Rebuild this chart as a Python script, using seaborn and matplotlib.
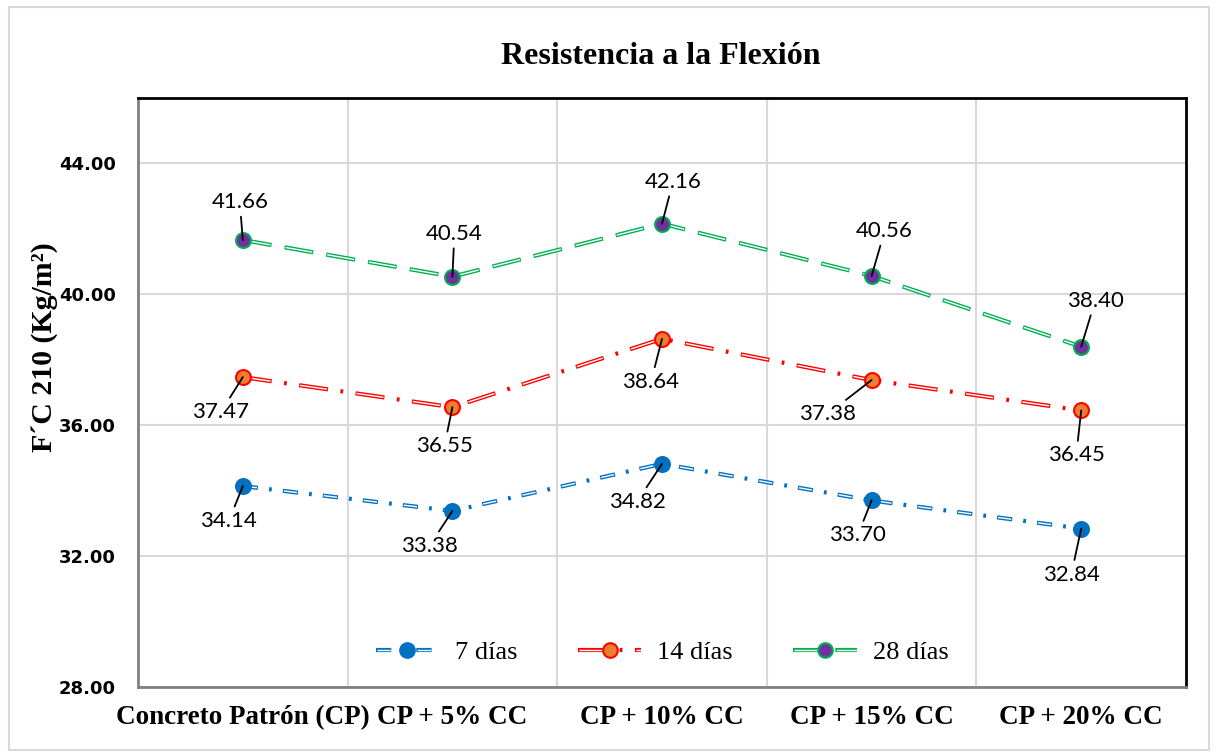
import matplotlib
matplotlib.use("Agg")
import numpy as np
import pandas as pd
import seaborn as sns
import matplotlib.pyplot as plt
from matplotlib.lines import Line2D
from matplotlib.legend_handler import HandlerTuple
from matplotlib.patches import Rectangle

# data
categories = ["Concreto Patrón (CP)", "CP + 5% CC", "CP + 10% CC",
              "CP + 15% CC", "CP + 20% CC"]
dias_7 = [34.14, 33.38, 34.82, 33.70, 32.84]
dias_14 = [37.47, 36.55, 38.64, 37.38, 36.45]
dias_28 = [41.66, 40.54, 42.16, 40.56, 38.40]
series_names = ["7 días", "14 días", "28 días"]
y_ticks = [28, 32, 36, 40, 44]

df = pd.DataFrame({
    "categoria": categories * 3,
    "valor": dias_7 + dias_14 + dias_28,
    "serie": np.repeat(series_names, len(categories)),
})

sns.set_style("white")
plt.rcParams["lines.scale_dashes"] = False
plt.rcParams["text.color"] = "black"
plt.rcParams["xtick.color"] = "black"
plt.rcParams["ytick.color"] = "black"

# styling per series: line colour, marker fill, marker edge, dash pattern
styles = {
    "7 días": dict(line="#0070C0", fill="#0070C0", edge="#0070C0",
                   dash=(11, 8, 2, 8), dlen=11),
    "14 días": dict(line="#FF0000", fill="#ED7D31", edge="#FF0000",
                    dash=(21, 9, 2, 9), dlen=21),
    "28 días": dict(line="#00B050", fill="#7030A0", edge="#00B050",
                    dash=(21, 9.5), dlen=21),
}
# label offsets in pixels (dx, dy) for each point
label_offsets = {
    "7 días": [(-14, -35), (-23, -35), (-25, -38), (-14, -35), (-10, -46)],
    "14 días": [(-22, -35), (-8, -39), (-11, -43), (-44, -34), (-5, -45)],
    "28 días": [(-3, 38), (2, 43), (11, 42), (13, 45), (14, 46)],
}

fig = plt.figure(figsize=(12.17, 7.56), dpi=100)
fig.patches.append(Rectangle((9 / 1217, 6 / 756), 1200 / 1217, 743 / 756,
                             transform=fig.transFigure, fill=False,
                             edgecolor="#D9D9D9", lw=1.5))
ax = fig.add_axes([138 / 1217, 1 - 687 / 756, 1048 / 1217, 589 / 756])

handles = []
for name in series_names:
    st = styles[name]
    sub = df[df["serie"] == name]
    period = sum(st["dash"])
    white_len = st["dlen"] - 1.4
    sns.lineplot(data=sub, x="categoria", y="valor", ax=ax, sort=False,
                 color=st["line"], lw=3.0, linestyle=(0, st["dash"]),
                 legend=False, zorder=3)
    sns.lineplot(data=sub, x="categoria", y="valor", ax=ax, sort=False,
                 color="white", lw=1.0,
                 linestyle=(period - 0.7, (white_len, period - white_len)),
                 legend=False, zorder=3.1)
    sns.scatterplot(data=sub, x="categoria", y="valor", ax=ax, s=115,
                    color=st["fill"], edgecolor=st["edge"], linewidth=1.5,
                    legend=False, zorder=4)
    for i, v in enumerate(sub["valor"]):
        ax.annotate(f"{v:.2f}", xy=(i, v), xytext=label_offsets[name][i],
                    textcoords="offset pixels", ha="center", va="center",
                    fontsize=16, family="Lato", color="black", zorder=6,
                    arrowprops=dict(arrowstyle="-", color="black", lw=1.3,
                                    shrinkA=1, shrinkB=0))
    h_col = Line2D([], [], color=st["line"], lw=3.0,
                   linestyle=(0, st["dash"]))
    h_white = Line2D([], [], color="white", lw=1.0,
                     linestyle=(period - 0.7, (white_len, period - white_len)))
    h_mark = Line2D([], [], ls="none", marker="o", markersize=10.5,
                    markerfacecolor=st["fill"], markeredgecolor=st["edge"],
                    markeredgewidth=1.5)
    handles.append((h_col, h_white, h_mark))

ax.set_xlim(-0.5, len(categories) - 0.5)
ax.set_ylim(28, 46)
ax.set_yticks(y_ticks)
ax.set_yticklabels([f"{t:.2f}" for t in y_ticks])
ax.set_xticks(range(len(categories)))
ax.set_xticklabels(categories)
ax.set_xticks(np.arange(0.5, len(categories) - 0.5, 1), minor=True)
ax.grid(False)
ax.grid(axis="y", which="major", color="#D9D9D9", lw=1.5, zorder=0)
ax.grid(axis="x", which="minor", color="#D9D9D9", lw=1.5, zorder=0)
ax.set_axisbelow(True)
ax.tick_params(axis="both", which="both", length=0)
ax.tick_params(axis="y", pad=16)
ax.tick_params(axis="x", pad=13)
for lab in ax.get_yticklabels():
    lab.set_fontfamily("DejaVu Sans")
    lab.set_fontweight("bold")
    lab.set_fontsize(13)
for lab in ax.get_xticklabels():
    lab.set_fontfamily("Liberation Serif")
    lab.set_fontweight("bold")
    lab.set_fontsize(19.5)
ax.set_xlabel("")
ax.set_ylabel("")

for side in ["left", "bottom"]:
    ax.spines[side].set_color("#808080")
    ax.spines[side].set_linewidth(2)
for side in ["top", "right"]:
    ax.spines[side].set_color("black")
    ax.spines[side].set_linewidth(2)

fig.text(661 / 1217, 1 - 57 / 756, "Resistencia a la Flexión",
         ha="center", va="center", fontsize=23, fontweight="bold",
         family="Liberation Serif")
fig.text(45 / 1217, 1 - 347 / 756, "F´C 210 (Kg/m²)", rotation=90,
         ha="center", va="center", fontsize=21.5, fontweight="bold",
         family="Liberation Serif")

ax.legend(handles, series_names, handler_map={tuple: HandlerTuple(ndivide=1)},
          loc="center", bbox_to_anchor=(0.5, 35 / 589), ncol=3, frameon=False,
          prop={"family": "Liberation Serif", "size": 19},
          handlelength=2.4, handletextpad=0.6, columnspacing=2.3)

fig.savefig("out.png", dpi=100)
